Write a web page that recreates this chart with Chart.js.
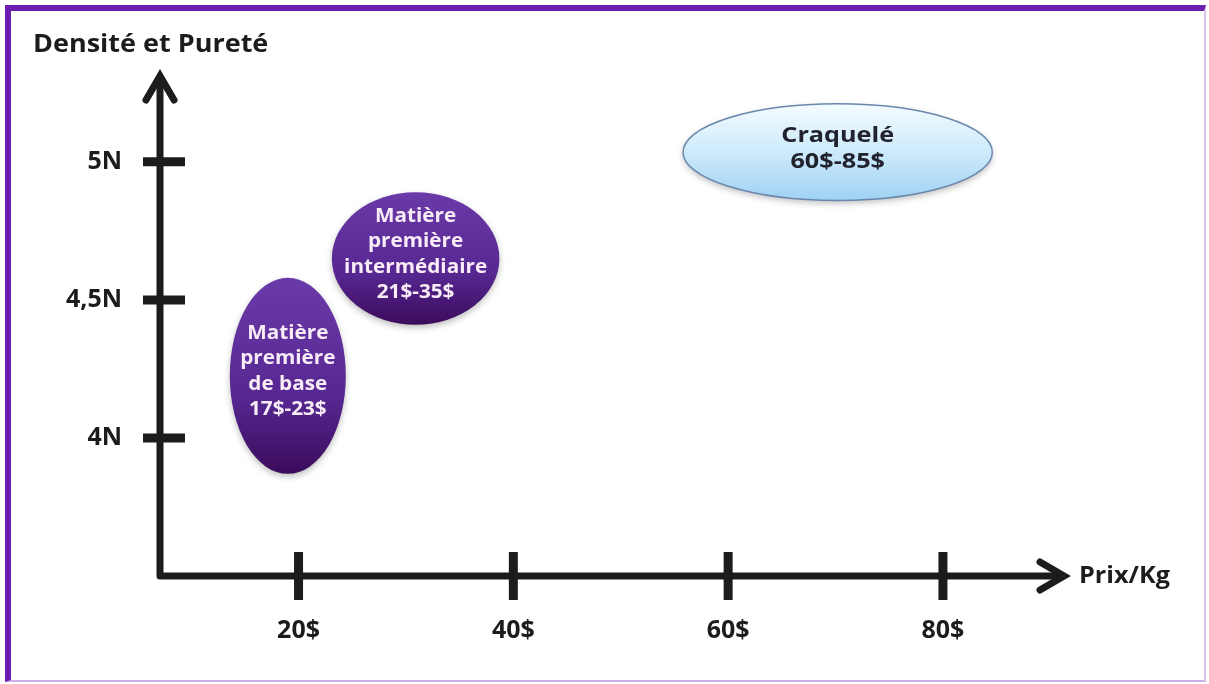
<!DOCTYPE html>
<html>
<head>
<meta charset="utf-8">
<script src="https://cdn.jsdelivr.net/npm/chart.js@4/dist/chart.umd.min.js"></script>
<style>
  html, body { margin: 0; padding: 0; background: #fff; }
  #wrap { position: relative; width: 1209px; height: 684px; }
  #frame {
    position: absolute; left: 5px; top: 5px; width: 1193px; height: 669px;
    border-left: 6px solid #6a1fb0; border-top: 6px solid #6a1fb0;
    border-right: 2px solid #d8c3ef; border-bottom: 2px solid #c9aee8;
    pointer-events: none;
  }
  canvas { position: absolute; left: 0; top: 0; }
</style>
</head>
<body>
<div id="wrap">
  <canvas id="chart" width="1209" height="684"></canvas>
  <div id="frame"></div>
</div>
<script>
// axis ticks
const priceTicks = [20, 40, 60, 80];
const priceLabels = ['20$', '40$', '60$', '80$'];
const densityTicks = [4, 4.5, 5];
const densityLabels = ['4N', '4,5N', '5N'];

// product groups (price range in $/kg, density range in N)
const groupNames = [
    ['Matière', 'première', 'de base', '17$-23$'],
    ['Matière', 'première', 'intermédiaire', '21$-35$'],
    ['Craquelé', '60$-85$']
];
const priceLow = [13.6, 23.1, 55.8];
const priceHigh = [24.4, 38.7, 84.6];
const densityLow = [3.87, 4.41, 4.86];
const densityHigh = [4.58, 4.89, 5.21];
const groupKind = ['dark', 'dark', 'light'];

const FONT = '"Open Sans", Lato, sans-serif';
const INK = '#1c1c1c';

// text is a bit wider than the font, like the original slide
function wideText(ctx, t, x, y, sx) {
    ctx.save();
    ctx.translate(x, y);
    ctx.scale(sx, 1);
    ctx.fillText(t, 0, 0);
    ctx.restore();
}

const diagramPlugin = {
    id: 'diagram',
    beforeDatasetsDraw(chart) {
        const { ctx, scales: { x, y } } = chart;
        groupNames.forEach((lines, i) => {
            const x0 = x.getPixelForValue(priceLow[i]), x1 = x.getPixelForValue(priceHigh[i]);
            const y0 = y.getPixelForValue(densityHigh[i]), y1 = y.getPixelForValue(densityLow[i]);
            const cx = (x0 + x1) / 2, cy = (y0 + y1) / 2, rx = (x1 - x0) / 2, ry = (y1 - y0) / 2;
            const dark = groupKind[i] === 'dark';
            ctx.save();
            const g = ctx.createLinearGradient(0, y0, 0, y1);
            if (dark) {
                g.addColorStop(0, '#6a3aa8');
                g.addColorStop(0.6, '#572892');
                g.addColorStop(1, '#3b0c5c');
            } else {
                g.addColorStop(0, '#f4fbff');
                g.addColorStop(0.5, '#cdeafb');
                g.addColorStop(1, '#9fd2f3');
            }
            ctx.shadowColor = 'rgba(0,0,0,0.25)';
            ctx.shadowBlur = 6;
            ctx.shadowOffsetY = 3;
            ctx.beginPath();
            ctx.ellipse(cx, cy, rx, ry, 0, 0, Math.PI * 2);
            ctx.fillStyle = g;
            ctx.fill();
            ctx.shadowColor = 'transparent';
            if (!dark) {
                ctx.lineWidth = 1.5;
                ctx.strokeStyle = '#6a88ad';
                ctx.stroke();
            }
            ctx.font = 'bold ' + (dark ? 19 : 21) + 'px ' + FONT;
            ctx.textAlign = 'center';
            ctx.textBaseline = 'middle';
            ctx.fillStyle = dark ? '#f8ecf6' : '#22222e';
            const lh = dark ? 25.5 : 26;
            const top = cy - (lines.length - 1) * lh / 2 - (dark ? 4 : 3.5);
            lines.forEach((t, k) => wideText(ctx, t, cx, top + k * lh, dark ? 1.09 : 1.2));
            ctx.restore();
        });
    },
    afterDraw(chart) {
        const { ctx, chartArea: a, scales: { x, y } } = chart;
        const ox = a.left, oy = a.bottom;
        ctx.save();
        ctx.strokeStyle = INK;
        ctx.lineWidth = 7;
        ctx.lineJoin = 'round';
        ctx.lineCap = 'butt';
        ctx.beginPath();
        ctx.moveTo(ox, a.top);
        ctx.lineTo(ox, oy);
        ctx.lineTo(a.right, oy);
        ctx.stroke();
        // arrow heads
        ctx.lineCap = 'round';
        ctx.lineJoin = 'miter';
        ctx.beginPath();
        ctx.moveTo(ox - 14, a.top + 21);
        ctx.lineTo(ox, a.top - 3);
        ctx.lineTo(ox + 14, a.top + 21);
        ctx.moveTo(a.right - 20, oy - 14);
        ctx.lineTo(a.right + 4, oy);
        ctx.lineTo(a.right - 20, oy + 14);
        ctx.stroke();
        // tick marks
        ctx.lineCap = 'butt';
        ctx.lineWidth = 9;
        densityTicks.forEach(v => {
            const py = y.getPixelForValue(v);
            ctx.beginPath();
            ctx.moveTo(ox - 17, py);
            ctx.lineTo(ox + 25, py);
            ctx.stroke();
        });
        priceTicks.forEach(v => {
            const px = x.getPixelForValue(v);
            ctx.beginPath();
            ctx.moveTo(px, oy - 24);
            ctx.lineTo(px, oy + 24);
            ctx.stroke();
        });
        // axis names
        ctx.fillStyle = INK;
        ctx.textBaseline = 'middle';
        ctx.textAlign = 'left';
        ctx.font = 'bold 25px ' + FONT;
        wideText(ctx, 'Densité et Pureté', 33, 45, 1.08);
        ctx.font = 'bold 24px ' + FONT;
        wideText(ctx, 'Prix/Kg', a.right + 19, oy, 1.05);
        ctx.restore();
    }
};

new Chart(document.getElementById('chart'), {
    type: 'scatter',
    data: {
        datasets: [{
            label: 'Groupes',
            data: groupNames.map((n, i) => ({ x: (priceLow[i] + priceHigh[i]) / 2, y: (densityLow[i] + densityHigh[i]) / 2 })),
            pointRadius: 0,
            pointHoverRadius: 0
        }]
    },
    options: {
        responsive: false,
        animation: false,
        events: [],
        layout: { padding: { top: 79, right: 149, left: 0, bottom: 0 } },
        plugins: { legend: { display: false }, tooltip: { enabled: false } },
        scales: {
            x: {
                type: 'linear', min: 7.1, max: 90.9,
                grid: { display: false, drawTicks: false },
                border: { display: false },
                afterBuildTicks: s => { s.ticks = priceTicks.map(v => ({ value: v })); },
                afterFit: s => { s.height = 108; },
                ticks: {
                    padding: 40, color: INK, font: { family: FONT, size: 25, weight: 'bold' },
                    maxRotation: 0,
                    callback: v => priceLabels[priceTicks.indexOf(v)]
                }
            },
            y: {
                type: 'linear', min: 3.5, max: 5.3,
                grid: { display: false, drawTicks: false },
                border: { display: false },
                afterBuildTicks: s => { s.ticks = densityTicks.map(v => ({ value: v })); },
                afterFit: s => { s.width = 160; },
                ticks: {
                    padding: 38, color: INK, font: { family: FONT, size: 25, weight: 'bold' },
                    callback: v => densityLabels[densityTicks.indexOf(v)]
                }
            }
        }
    },
    plugins: [diagramPlugin]
});
</script>
</body>
</html>
